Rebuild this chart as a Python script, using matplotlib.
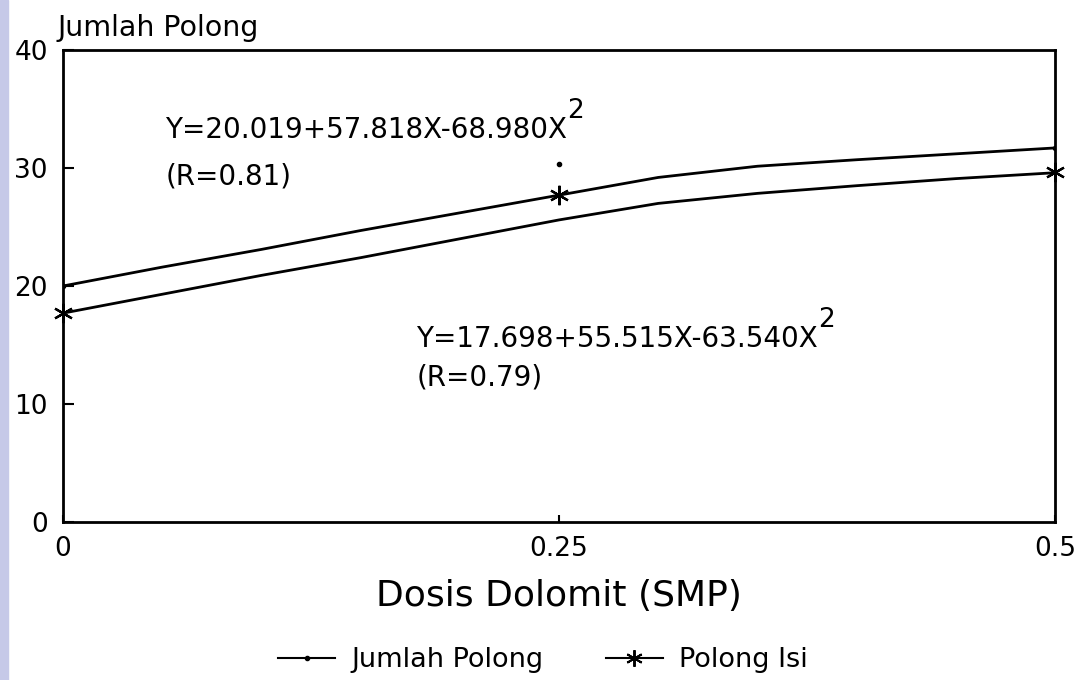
import numpy as np
import matplotlib.pyplot as plt
from matplotlib.patches import Rectangle

plt.rcParams['font.family'] = ['DejaVu Sans']

# kurva hasil regresi
x_curve = [0, 0.05, 0.10, 0.15, 0.20, 0.25, 0.30, 0.35, 0.40, 0.45, 0.50]
jp_curve = [20.0, 21.6, 23.1, 24.7, 26.2, 27.7, 29.2, 30.15, 30.7, 31.2, 31.7]
pi_curve = [17.7, 19.3, 20.9, 22.4, 24.0, 25.6, 27.0, 27.85, 28.5, 29.1, 29.6]

# titik pengamatan
dosis = [0, 0.25, 0.5]
jumlah_polong = [20.0, 30.3, 31.7]
polong_isi = [17.7, 27.7, 29.7]

yticks = [0, 10, 20, 30, 40]
xticks = [0, 0.25, 0.5]
xticklabels = ["0", "0.25", "0.5"]

eq1 = "Y=20.019+57.818X-68.980X"
r1 = "(R=0.81)"
eq2 = "Y=17.698+55.515X-63.540X"
r2 = "(R=0.79)"

fig = plt.figure(figsize=(10.78, 6.8), dpi=100)
ax = fig.add_axes([63 / 1078, 1 - 522 / 680, (1055 - 63) / 1078, (522 - 50) / 680])

# strip kiri hasil scan
fig.patches.append(Rectangle((0, 0), 8 / 1078, 1, transform=fig.transFigure,
                             color="#c6c9e8", zorder=0))

ax.plot(x_curve, jp_curve, color="black", lw=2)
ax.plot(x_curve, pi_curve, color="black", lw=2)
ax.plot(dosis, jumlah_polong, ls="none", marker="o", ms=3, color="black")
ax.plot(dosis, polong_isi, ls="none", marker=(6, 2, 0), ms=14, mew=1.6,
        color="black", clip_on=False)

ax.set_xlim(0, 0.5)
ax.set_ylim(0, 40)
ax.set_yticks(yticks)
ax.set_xticks(xticks)
ax.set_xticklabels(xticklabels)
ax.tick_params(axis="y", direction="in", length=8, width=1.5, pad=11, labelsize=19)
ax.tick_params(axis="x", direction="in", length=5, width=1.5, pad=10, labelsize=19)
for s in ax.spines.values():
    s.set_linewidth(2)

ax.set_xlabel("Dosis Dolomit (SMP)", fontsize=26, labelpad=12)
fig.text(58 / 1078, 1 - 36 / 680, "Jumlah Polong", fontsize=20.5, ha="left", va="baseline")

def equation(x, y, s, r, dy):
    t = ax.text(x, y, s, fontsize=20, ha="left", va="baseline")
    ax.annotate("2", xy=(1.0, 0.72), xycoords=t, fontsize=19, ha="left", va="bottom")
    ax.text(x, y - dy, r, fontsize=20, ha="left", va="baseline")

equation(0.0515, 32.5, eq1, r1, 3.9)
equation(0.178, 14.8, eq2, r2, 3.2)

h1, = ax.plot([], [], color="black", lw=1.5, marker="o", ms=3)
h2, = ax.plot([], [], color="black", lw=1.5, marker=(6, 2, 0), ms=12, mew=1.4)
fig.legend([h1, h2], ["Jumlah Polong", "Polong Isi"], loc="center",
           bbox_to_anchor=(543 / 1078, 1 - 660 / 680), ncol=2, frameon=False,
           fontsize=19.5, handlelength=2.1, handletextpad=0.6, columnspacing=2.3)

fig.savefig("out.png", dpi=100)
